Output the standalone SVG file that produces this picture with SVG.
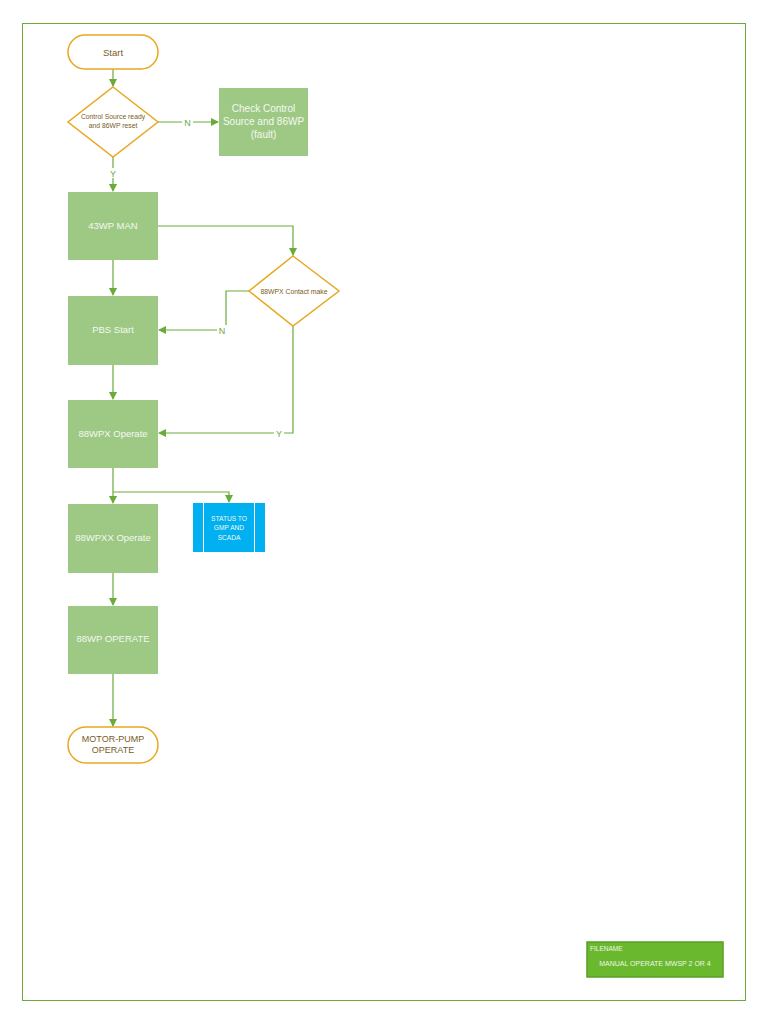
<svg xmlns="http://www.w3.org/2000/svg" width="768" height="1024" viewBox="0 0 768 1024">
<defs>
<marker id="arr" markerWidth="8" markerHeight="8" refX="7" refY="4" orient="auto" markerUnits="userSpaceOnUse">
<path d="M0,0 L8,4 L0,8 Z" fill="#6aab3a"/>
</marker>
<style>
.term{fill:#ffffff;stroke:#e8a820;stroke-width:1.5}
.dec{fill:#ffffff;stroke:#e8a820;stroke-width:1.5}
.proc{fill:#9dc985}
.tt{font-family:"Liberation Sans",Arial,sans-serif;fill:#7a5c1e;text-anchor:middle}
.pt{font-family:"Liberation Sans",Arial,sans-serif;fill:#f4f8f0;text-anchor:middle}
.p9{font-size:9.5px}
.p10{font-size:10px}
.p6{font-size:6.6px}
.dt{font-family:"Liberation Sans",Arial,sans-serif;fill:#7a5c1e;text-anchor:middle;font-size:6.8px}
.conn{fill:none;stroke:#6aab3a;stroke-width:1.2}
.lbl{font-family:"Liberation Sans",Arial,sans-serif;fill:#6aab3a;font-size:9px;text-anchor:middle}
</style>
</defs>
<rect x="22.5" y="23.5" width="723" height="977" fill="#ffffff" stroke="#6aab3a" stroke-width="1"/>
<g id="connectors">
<path class="conn" d="M113,69 V86" marker-end="url(#arr)"/>
<path class="conn" d="M158,122 H218" marker-end="url(#arr)"/>
<path class="conn" d="M113,157 V191" marker-end="url(#arr)"/>
<path class="conn" d="M113,260 V295" marker-end="url(#arr)"/>
<path class="conn" d="M158,226 H293 V255" marker-end="url(#arr)"/>
<path class="conn" d="M249,291 H226 V330 H159" marker-end="url(#arr)"/>
<path class="conn" d="M113,365 V399" marker-end="url(#arr)"/>
<path class="conn" d="M293,326 V433 H159" marker-end="url(#arr)"/>
<path class="conn" d="M113,468 V503" marker-end="url(#arr)"/>
<path class="conn" d="M113,492 H229 V502" marker-end="url(#arr)"/>
<path class="conn" d="M113,573 V605" marker-end="url(#arr)"/>
<path class="conn" d="M113,674 V726" marker-end="url(#arr)"/>
<rect x="182" y="117" width="11" height="10" fill="#ffffff"/>
<text class="lbl" x="187.5" y="125.5">N</text>
<rect x="108" y="168" width="10" height="10" fill="#ffffff"/>
<text class="lbl" x="113" y="176.5">Y</text>
<rect x="217" y="325" width="10" height="10" fill="#ffffff"/>
<text class="lbl" x="222" y="333.5">N</text>
<rect x="274" y="428" width="10" height="10" fill="#ffffff"/>
<text class="lbl" x="279" y="436.5">Y</text>
</g>
<g id="start">
<rect class="term" x="68" y="35" width="90" height="34" rx="17"/>
<text class="tt" x="113" y="55.5" font-size="9.5">Start</text>
</g>
<g id="decision1">
<polygon class="dec" points="113,87 158,122 113,157 68,122"/>
<text class="dt" x="113" y="119">Control Source ready</text>
<text class="dt" x="113" y="128">and 86WP reset</text>
</g>
<g id="check">
<rect class="proc" x="219" y="88" width="89" height="68"/>
<text class="pt p10" x="263.5" y="112">Check Control</text>
<text class="pt p10" x="263.5" y="125">Source and 86WP</text>
<text class="pt p10" x="263.5" y="138">(fault)</text>
</g>
<g id="man43">
<rect class="proc" x="68" y="192" width="90" height="68"/>
<text class="pt p9" x="113" y="229">43WP MAN</text>
</g>
<g id="decision2">
<polygon class="dec" points="293,256 339,291 293,326 249,291"/>
<text class="dt" x="294" y="293.5">88WPX Contact make</text>
</g>
<g id="pbs">
<rect class="proc" x="68" y="296" width="90" height="69"/>
<text class="pt p9" x="113" y="333">PBS Start</text>
</g>
<g id="op88wpx">
<rect class="proc" x="68" y="400" width="90" height="68"/>
<text class="pt p9" x="113" y="437">88WPX Operate</text>
</g>
<g id="status">
<rect x="193" y="503" width="72" height="49" fill="#00b0f0"/>
<line x1="203.5" y1="503" x2="203.5" y2="552" stroke="#ffffff" stroke-width="1"/>
<line x1="254.5" y1="503" x2="254.5" y2="552" stroke="#ffffff" stroke-width="1"/>
<text class="pt p6" x="229" y="520.5">STATUS TO</text>
<text class="pt p6" x="229" y="529.5">GMP AND</text>
<text class="pt p6" x="229" y="539.5">SCADA</text>
</g>
<g id="op88wpxx">
<rect class="proc" x="68" y="504" width="90" height="69"/>
<text class="pt p9" x="113" y="540.5">88WPXX Operate</text>
</g>
<g id="op88wp">
<rect class="proc" x="68" y="606" width="90" height="68"/>
<text class="pt p9" x="113" y="642">88WP OPERATE</text>
</g>
<g id="motor">
<rect class="term" x="68" y="727" width="90" height="36" rx="18"/>
<text class="tt" x="113" y="742" font-size="9">MOTOR-PUMP</text>
<text class="tt" x="113" y="753" font-size="9">OPERATE</text>
</g>
<g id="filename">
<rect x="587" y="942" width="136" height="35" fill="#6ab82e" stroke="#5a9e26" stroke-width="1.5"/>
<text x="590" y="951" font-family="'Liberation Sans',Arial,sans-serif" font-size="6.5" fill="#eef7e6">FILENAME</text>
<text x="655" y="966" font-family="'Liberation Sans',Arial,sans-serif" font-size="7" fill="#eef7e6" text-anchor="middle">MANUAL OPERATE MWSP 2 OR 4</text>
</g>
</svg>
